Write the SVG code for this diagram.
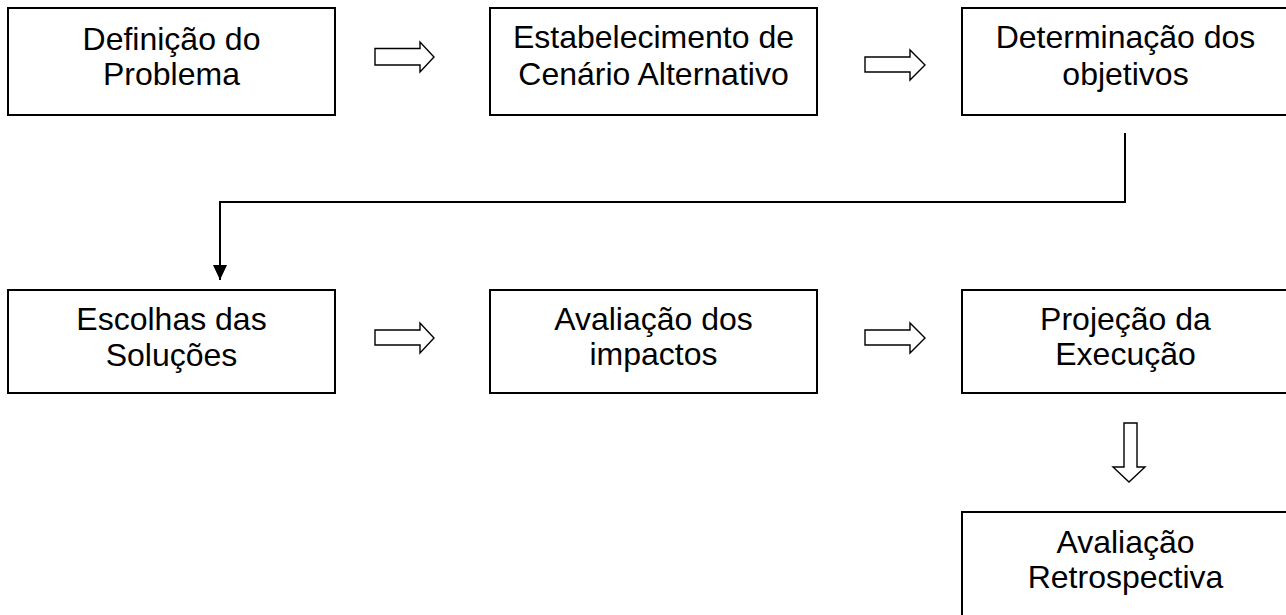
<svg xmlns="http://www.w3.org/2000/svg" width="1286" height="615" viewBox="0 0 1286 615">
<style>
.box{fill:#fff;stroke:#000;stroke-width:2}
.lbl{font-family:"Liberation Sans",Arial,sans-serif;font-size:32px;fill:#000;text-anchor:middle}
.hollow{fill:#fff;stroke:#000;stroke-width:1.4;stroke-linejoin:miter}
.conn{fill:none;stroke:#000;stroke-width:2}
</style>
<defs>
<marker id="ah" markerWidth="16" markerHeight="14" refX="15" refY="7" orient="auto" markerUnits="userSpaceOnUse">
<path d="M0,0 L15,7 L0,14 Z" fill="#000"/>
</marker>
</defs>
<rect width="1286" height="615" fill="#fff"/>
<g id="n1"><rect class="box" x="8" y="8" width="327" height="107"/>
<text class="lbl" x="171.5" y="50">Definição do</text><text class="lbl" x="171.5" y="85">Problema</text></g>
<g id="n2"><rect class="box" x="490" y="8" width="327" height="107"/>
<text class="lbl" x="653.5" y="48">Estabelecimento de</text><text class="lbl" x="653.5" y="85">Cenário Alternativo</text></g>
<g id="n3"><rect class="box" x="962" y="8" width="327" height="107"/>
<text class="lbl" x="1125.5" y="48">Determinação dos</text><text class="lbl" x="1125.5" y="85">objetivos</text></g>
<g id="n4"><rect class="box" x="8" y="290" width="327" height="103"/>
<text class="lbl" x="171.5" y="330">Escolhas das</text><text class="lbl" x="171.5" y="366">Soluções</text></g>
<g id="n5"><rect class="box" x="490" y="290" width="327" height="103"/>
<text class="lbl" x="653.5" y="330">Avaliação dos</text><text class="lbl" x="653.5" y="365">impactos</text></g>
<g id="n6"><rect class="box" x="962" y="290" width="327" height="103"/>
<text class="lbl" x="1125.5" y="330">Projeção da</text><text class="lbl" x="1125.5" y="365">Execução</text></g>
<g id="n7"><rect class="box" x="962" y="512" width="327" height="110"/>
<text class="lbl" x="1125.5" y="553">Avaliação</text><text class="lbl" x="1125.5" y="588">Retrospectiva</text></g>
<g id="connectors">
<path class="hollow" d="M375,48.5 L420,48.5 L420,42 L434,57 L420,72 L420,65 L375,65 Z"/>
<path class="hollow" d="M865,57 L910,57 L910,50 L925,65 L910,80 L910,72 L865,72 Z"/>
<path class="hollow" d="M375,330 L420,330 L420,323 L434,338 L420,353 L420,345 L375,345 Z"/>
<path class="hollow" d="M865,330 L910,330 L910,323 L925,338 L910,353 L910,345 L865,345 Z"/>
<path class="hollow" d="M1124,423 L1137,423 L1137,467 L1145,467 L1129,482 L1113,467 L1124,467 Z"/>
<path class="conn" d="M1125,133 L1125,202 L220,202 L220,280" marker-end="url(#ah)"/>
</g>
</svg>
